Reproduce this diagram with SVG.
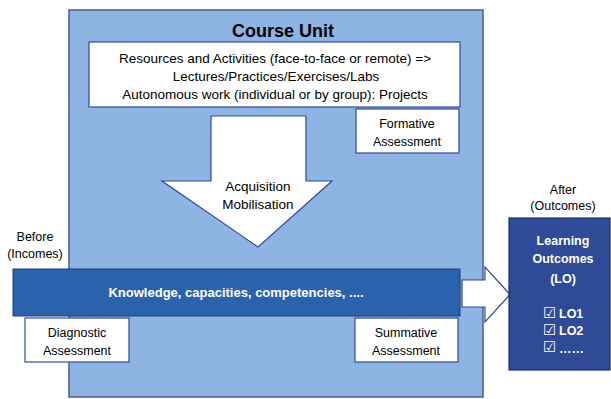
<svg xmlns="http://www.w3.org/2000/svg" width="611" height="399" viewBox="0 0 611 399">
<style>
text{font-family:"Liberation Sans","Open Sans",Arial,sans-serif;text-anchor:middle;fill:#000}
.t{font-size:12.5px}
.l{font-size:13.5px}
.wb{font-size:12.5px;font-weight:bold;fill:#fff}
.ck{font-family:"DejaVu Sans",sans-serif;font-size:14.5px;fill:#fff;text-anchor:start}
.box{fill:#fff;stroke:#2f4b97;stroke-width:1.2}
</style>
<rect x="0" y="0" width="611" height="399" fill="#fff"/>
<g id="course-unit">
<rect x="69" y="10" width="414" height="387" fill="#8db4e2" stroke="#44608c" stroke-width="1.5"/>
<text x="283" y="37" style="font-size:18px;font-weight:bold">Course Unit</text>
</g>
<g id="resources">
<rect class="box" x="89" y="42" width="371" height="65"/>
<text class="l" x="275" y="63">Resources and Activities (face-to-face or remote) =&gt;</text>
<text class="l" x="276" y="81">Lectures/Practices/Exercises/Labs</text>
<text class="l" x="275" y="99">Autonomous work (individual or by group): Projects</text>
</g>
<g id="formative">
<rect class="box" x="356" y="109" width="103" height="44"/>
<text class="t" x="407" y="128">Formative</text>
<text class="t" x="407" y="146">Assessment</text>
</g>
<g id="acquisition">
<polygon points="211,116 306,116 306,181 332,181 258,247 162,181 211,181" fill="#fff" stroke="#2f4b97" stroke-width="1.2"/>
<text class="l" x="258" y="191">Acquisition</text>
<text class="l" x="258" y="209">Mobilisation</text>
</g>
<g id="before">
<text class="t" x="35" y="241">Before</text>
<text class="t" x="35" y="258">(Incomes)</text>
</g>
<g id="knowledge">
<rect x="13" y="269" width="447" height="47" fill="#2a62ac" stroke="#1f3f7a" stroke-width="1"/>
<text class="wb" x="236" y="297" style="font-size:13px">Knowledge, capacities, competencies,  ....</text>
</g>
<g id="diagnostic">
<rect class="box" x="25" y="318" width="104" height="44"/>
<text class="t" x="77" y="337">Diagnostic</text>
<text class="t" x="77" y="355">Assessment</text>
</g>
<g id="summative">
<rect class="box" x="355" y="318" width="103" height="44"/>
<text class="t" x="406" y="337">Summative</text>
<text class="t" x="406" y="355">Assessment</text>
</g>
<g id="connectors">
<polygon points="462,280 485,280 485,267 510,294.5 485,322 485,307 462,307" fill="#fff" stroke="#2f4b97" stroke-width="1.2"/>
</g>
<g id="after">
<text class="t" x="563" y="194">After</text>
<text class="t" x="563" y="210">(Outcomes)</text>
</g>
<g id="learning-outcomes">
<rect x="509" y="218" width="101" height="152" fill="#2f4b97" stroke="#1a2d66" stroke-width="1.2"/>
<text class="wb" x="563" y="245">Learning</text>
<text class="wb" x="563" y="263">Outcomes</text>
<text class="wb" x="563" y="283">(LO)</text>
<text class="wb" x="559" y="318" style="text-anchor:start">LO1</text>
<text class="wb" x="559" y="335" style="text-anchor:start">LO2</text>
<text class="wb" x="559" y="353" style="text-anchor:start">……</text>
<text class="ck" x="543" y="318">☑</text>
<text class="ck" x="543" y="335">☑</text>
<text class="ck" x="543" y="352">☑</text>
</g>
</svg>
